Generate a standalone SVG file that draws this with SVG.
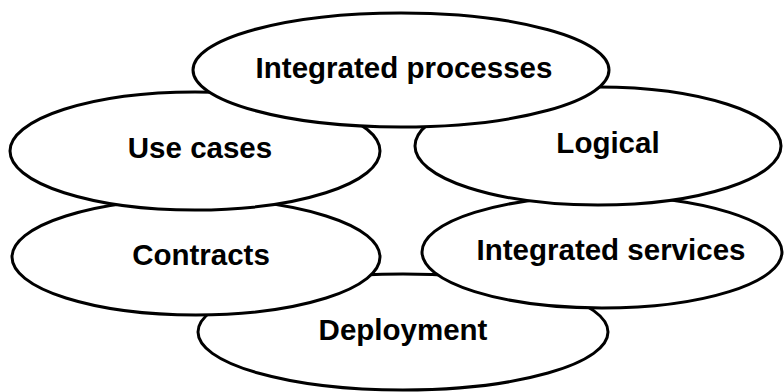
<svg xmlns="http://www.w3.org/2000/svg" width="784" height="392" viewBox="0 0 784 392">
<style>
.n ellipse{fill:#fff;stroke:#000;stroke-width:3}
.n text{font-family:"Liberation Sans",Arial,sans-serif;font-weight:bold;font-size:29.5px;fill:#000;text-anchor:middle}
</style>
<rect width="784" height="392" fill="#fff"/>
<g id="connectors"/>
<g id="deployment" class="n"><ellipse cx="403" cy="332" rx="205" ry="58"/><text x="403" y="340">Deployment</text></g>
<g id="contracts" class="n"><ellipse cx="196" cy="257" rx="184" ry="58"/><text x="201" y="265">Contracts</text></g>
<g id="integrated-services" class="n"><ellipse cx="602" cy="252" rx="180" ry="56"/><text x="611" y="260">Integrated services</text></g>
<g id="use-cases" class="n"><ellipse cx="195" cy="151" rx="185" ry="59"/><text x="200" y="158">Use cases</text></g>
<g id="logical" class="n"><ellipse cx="598" cy="146" rx="183" ry="59"/><text x="608" y="153">Logical</text></g>
<g id="integrated-processes" class="n"><ellipse cx="401" cy="70" rx="208" ry="57"/><text x="404" y="78">Integrated processes</text></g>
</svg>
